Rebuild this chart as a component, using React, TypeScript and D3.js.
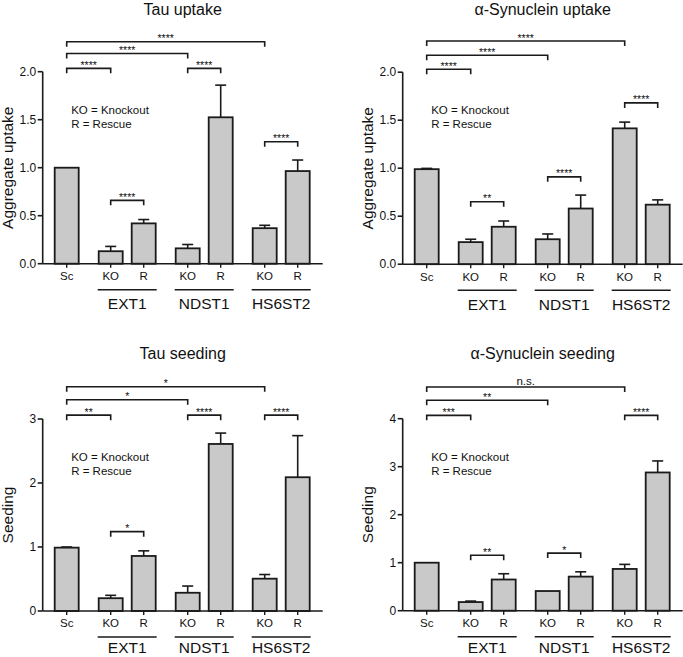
import React from "react";
import * as d3 from "d3";

const categories = ["Sc", "KO", "R", "KO", "R", "KO", "R"];
const groupIndex = [0, 1, 1, 2, 2, 3, 3];
const groupNames = ["EXT1", "NDST1", "HS6ST2"];

const tauUptakeMean = [1.0, 0.13, 0.42, 0.16, 1.525, 0.37, 0.965];
const tauUptakeSem = [0, 0.05, 0.04, 0.04, 0.335, 0.03, 0.115];
const synUptakeMean = [0.99, 0.23, 0.39, 0.26, 0.58, 1.415, 0.62];
const synUptakeSem = [0.008, 0.03, 0.06, 0.055, 0.14, 0.065, 0.05];
const tauSeedMean = [0.99, 0.2, 0.86, 0.285, 2.61, 0.505, 2.09];
const tauSeedSem = [0.01, 0.045, 0.08, 0.105, 0.17, 0.065, 0.65];
const synSeedMean = [1.0, 0.18, 0.65, 0.41, 0.71, 0.87, 2.88];
const synSeedSem = [0, 0.02, 0.12, 0, 0.1, 0.095, 0.24];

const uptakeTicks = [0, 0.5, 1.0, 1.5, 2.0];
const tauSeedTicks = [0, 1, 2, 3];
const synSeedTicks = [0, 1, 2, 3, 4];

const tauUptakeSig = [
  { a: 0, b: 5, y: 2.3125, label: "****" },
  { a: 0, b: 3, y: 2.19, label: "****" },
  { a: 0, b: 1, y: 2.035, label: "****" },
  { a: 3, b: 4, y: 2.035, label: "****" },
  { a: 5, b: 6, y: 1.27, label: "****" },
  { a: 1, b: 2, y: 0.66, label: "****" },
];
const synUptakeSig = [
  { a: 0, b: 5, y: 2.325, label: "****" },
  { a: 0, b: 3, y: 2.177, label: "****" },
  { a: 0, b: 1, y: 2.03, label: "****" },
  { a: 5, b: 6, y: 1.68, label: "****" },
  { a: 3, b: 4, y: 0.91, label: "****" },
  { a: 1, b: 2, y: 0.65, label: "**" },
];
const tauSeedSig = [
  { a: 0, b: 5, y: 3.505, label: "*" },
  { a: 0, b: 3, y: 3.3, label: "*" },
  { a: 0, b: 1, y: 3.06, label: "**" },
  { a: 3, b: 4, y: 3.06, label: "****" },
  { a: 5, b: 6, y: 3.06, label: "****" },
  { a: 1, b: 2, y: 1.24, label: "*" },
];
const synSeedSig = [
  { a: 0, b: 5, y: 4.66, label: "n.s." },
  { a: 0, b: 3, y: 4.385, label: "**" },
  { a: 0, b: 1, y: 4.07, label: "***" },
  { a: 5, b: 6, y: 4.07, label: "****" },
  { a: 1, b: 2, y: 1.156, label: "**" },
  { a: 3, b: 4, y: 1.2, label: "*" },
];

const FONT = "'Liberation Sans', Arial, Helvetica, sans-serif";
const INK = "#1a1a1a";
const TEXT = "#111111";
const FILL = "#c9c9c9";

type Sig = { a: number; b: number; y: number; label: string };

function Panel(props: {
  axisX: number;
  y0: number;
  yMax: number;
  ticks: number[];
  tickFmt: (v: number) => string;
  title: string;
  yLabel: string;
  mean: number[];
  sem: number[];
  sig: Sig[];
  titleY: number;
  groupDy: number;
}) {
  const { axisX, y0, yMax, ticks, tickFmt, title, yLabel, mean, sem, sig, titleY, groupDy } = props;
  const plotH = 192;
  const y = d3.scaleLinear().domain([0, yMax]).range([y0, y0 - plotH]);
  const slots = categories.map((_, i) => i + groupIndex[i] / 3);
  const x = d3.scaleLinear().domain([0, 1]).range([axisX + 24, axisX + 24 + 33]);
  const barW = 24;
  const axisEnd = axisX + 280;
  const capW = 11;

  return (
    <g fontFamily={FONT} fill={TEXT}>
      <text x={(axisX + axisEnd) / 2} y={titleY} fontSize={16} textAnchor="middle">
        {title}
      </text>
      <text
        transform={`translate(${axisX - 30},${y0 - plotH / 2}) rotate(-90)`}
        fontSize={15.5}
        textAnchor="middle"
      >
        {yLabel}
      </text>
      {mean.map((m, i) => {
        const cx = x(slots[i]);
        const top = y(m);
        const eTop = y(m + sem[i]);
        return (
          <g key={"b" + i}>
            {sem[i] > 0 && (
              <g stroke={INK} strokeWidth={1.6}>
                <line x1={cx} x2={cx} y1={top} y2={eTop} />
                <line x1={cx - capW / 2} x2={cx + capW / 2} y1={eTop} y2={eTop} />
              </g>
            )}
            <rect
              x={cx - barW / 2}
              y={top}
              width={barW}
              height={y0 - top}
              fill={FILL}
              stroke={INK}
              strokeWidth={1.8}
            />
          </g>
        );
      })}
      <line x1={axisX} x2={axisX} y1={y0} y2={y(yMax)} stroke={INK} strokeWidth={1.6} />
      {ticks.map((t) => (
        <g key={"t" + t}>
          <line x1={axisX - 5} x2={axisX} y1={y(t)} y2={y(t)} stroke={INK} strokeWidth={1.6} />
          <text x={axisX - 6.5} y={y(t) + 4} fontSize={12} textAnchor="end">
            {tickFmt(t)}
          </text>
        </g>
      ))}
      <line x1={axisX} x2={axisEnd} y1={y0} y2={y0} stroke={INK} strokeWidth={1.6} />
      {categories.map((c, i) => (
        <g key={"c" + i}>
          <line x1={x(slots[i])} x2={x(slots[i])} y1={y0} y2={y0 + 4} stroke={INK} strokeWidth={1.4} />
          <text x={x(slots[i])} y={y0 + 16.3} fontSize={11.5} textAnchor="middle">
            {c}
          </text>
        </g>
      ))}
      {groupNames.map((g, gi) => {
        const idx = categories.map((_, i) => i).filter((i) => groupIndex[i] === gi + 1);
        const left = x(slots[idx[0]]) - barW / 2 - 1;
        const right = x(slots[idx[idx.length - 1]]) + barW / 2 + 1;
        return (
          <g key={"g" + g}>
            <line x1={left} x2={right} y1={y0 + 26} y2={y0 + 26} stroke={INK} strokeWidth={1.4} />
            <text x={(left + right) / 2} y={y0 + groupDy} fontSize={15.5} textAnchor="middle">
              {g}
            </text>
          </g>
        );
      })}
      <text x={axisX + 28.5} y={y0 - 150} fontSize={11.5}>
        KO = Knockout
      </text>
      <text x={axisX + 28.5} y={y0 - 136} fontSize={11.5}>
        R = Rescue
      </text>
      {sig.map((s, k) => {
        const xa = x(slots[s.a]);
        const xb = x(slots[s.b]);
        const yy = y(s.y);
        const isText = s.label === "n.s.";
        return (
          <g key={"s" + k}>
            <path
              d={`M${xa},${yy + 5}V${yy}H${xb}V${yy + 5}`}
              fill="none"
              stroke={INK}
              strokeWidth={1.6}
            />
            <text
              x={(xa + xb) / 2}
              y={isText ? yy - 2.5 : yy + 0.5}
              fontSize={isText ? 11.5 : 10.5}
              textAnchor="middle"
            >
              {s.label}
            </text>
          </g>
        );
      })}
    </g>
  );
}

export default function App() {
  const f1 = d3.format(".1f");
  const f0 = d3.format("d");
  return (
    <svg
      width={683}
      height={657}
      style={{ position: "absolute", left: 0, top: 0, background: "#fff" }}
    >
      <rect width={683} height={657} fill="#fff" />
      <Panel
        axisX={42.7}
        y0={263.7}
        yMax={2}
        ticks={uptakeTicks}
        tickFmt={f1}
        title="Tau uptake"
        yLabel="Aggregate uptake"
        mean={tauUptakeMean}
        sem={tauUptakeSem}
        sig={tauUptakeSig}
        titleY={15}
        groupDy={45.5}
      />
      <Panel
        axisX={402.7}
        y0={264.2}
        yMax={2}
        ticks={uptakeTicks}
        tickFmt={f1}
        title="α-Synuclein uptake"
        yLabel="Aggregate uptake"
        mean={synUptakeMean}
        sem={synUptakeSem}
        sig={synUptakeSig}
        titleY={15}
        groupDy={45.5}
      />
      <Panel
        axisX={42.7}
        y0={611}
        yMax={3}
        ticks={tauSeedTicks}
        tickFmt={f0}
        title="Tau seeding"
        yLabel="Seeding"
        mean={tauSeedMean}
        sem={tauSeedSem}
        sig={tauSeedSig}
        titleY={358.5}
        groupDy={42}
      />
      <Panel
        axisX={402.7}
        y0={610.7}
        yMax={4}
        ticks={synSeedTicks}
        tickFmt={f0}
        title="α-Synuclein seeding"
        yLabel="Seeding"
        mean={synSeedMean}
        sem={synSeedSem}
        sig={synSeedSig}
        titleY={358.5}
        groupDy={42}
      />
    </svg>
  );
}
